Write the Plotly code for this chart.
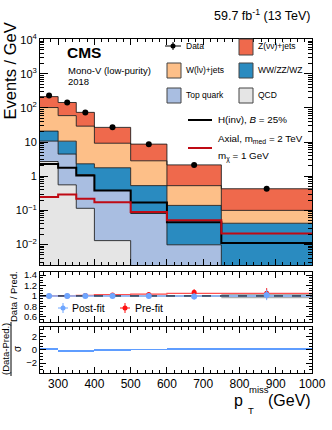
import plotly.graph_objects as go
from plotly.subplots import make_subplots

_FONT = "Liberation Sans, Arial, sans-serif"
_Z = "#ef694c"
_W = "#fdbf88"
_VV = "#2a8bc0"
_TOP = "#a9bee1"
_QCD = "#e5e5e5"
_EDGE = "rgba(25,25,25,0.85)"
_SIG_RED = "#bf0a14"
_POST = "#6fa6ff"
_PRE = "#ff1010"

# binning (GeV)
edges = [250, 300, 350, 400, 500, 600, 750, 1000]
centers = [275, 325, 375, 450, 550, 675, 875]
widths = [50, 50, 50, 100, 100, 150, 250]

# events / GeV
data = [230, 145, 74, 27, 8.7, 2.15, 0.43]
data_err = [4.0, 3.0, 1.8, 0.7, 0.3, 0.1, 0.04]
qcd = [2.7, 0.56, 0.115, 0.013, 0.001, 0.0005, 0.0002]
top = [8.0, 3.9, 1.0, 0.37, 0.08, 0.0093, 0.0008]
vv = [10.3, 6.2, 1.2, 1.39, 0.45, 0.13, 0.041]
wjets = [82, 49, 27, 7.5, 2.3, 0.39, 0.058]
zjets = [112, 85, 45, 17.7, 5.9, 1.62, 0.33]
hinv = [2.3, 1.77, 1.05, 0.38, 0.17, 0.045, 0.011]
axial = [0.245, 0.29, 0.22, 0.174, 0.089, 0.051, 0.021]

# ratio panel
postfit_ratio = [1.0, 1.0, 1.0, 1.0, 1.0, 0.99, 1.02]
postfit_err = [0.01, 0.01, 0.015, 0.02, 0.035, 0.06, 0.1]
prefit_ratio = [1.0, 1.0, 1.01, 1.02, 1.03, 1.07, 1.05]
prefit_err = [0.01, 0.01, 0.015, 0.02, 0.035, 0.06, 0.1]
prefit_line = [1.0, 1.0, 1.01, 1.025, 1.035, 1.05, 1.05]
syst_unc = [0.004, 0.004, 0.006, 0.01, 0.015, 0.02, 0.045]

# pull panel
pull = [0.3, -0.4, -0.4, -0.2, 0.05, 0.15, 0.25]

W, H = 332, 430
PL, PR, PT, PB = 40, 312, 39, 373  # plot box in pixels


def px(x):
    return (x - PL) / (PR - PL)


def py(y):
    return (PB - y) / (PB - PT)


def steps(vals):
    return list(vals) + [vals[-1]]


fig = make_subplots(rows=3, cols=1, shared_xaxes=True)

# stacked backgrounds
running = [1e-5] * len(centers)
fig.add_trace(go.Scatter(x=edges, y=steps(running), mode="lines", line={"width": 0},
                         line_shape="hv", hoverinfo="skip"), row=1, col=1)
for vals, col in [(qcd, _QCD), (top, _TOP), (vv, _VV), (wjets, _W), (zjets, _Z)]:
    running = [a + b for a, b in zip(running, vals)]
    fig.add_trace(go.Scatter(x=edges, y=steps(running), mode="lines", line_shape="hv",
                             fill="tonexty", fillcolor=col,
                             line={"color": _EDGE, "width": 1}), row=1, col=1)

fig.add_trace(go.Scatter(x=edges, y=steps(hinv), mode="lines", line_shape="hv",
                         line={"color": "black", "width": 2}), row=1, col=1)
fig.add_trace(go.Scatter(x=edges, y=steps(axial), mode="lines", line_shape="hv",
                         line={"color": _SIG_RED, "width": 2}), row=1, col=1)
fig.add_trace(go.Scatter(x=centers, y=data, mode="markers",
                         marker={"color": "black", "size": 6},
                         error_y={"type": "data", "array": data_err, "color": "black",
                                  "thickness": 1, "width": 0}), row=1, col=1)

# ratio panel
lo = [1 - u for u in syst_unc]
hi = [1 + u for u in syst_unc]
fig.add_trace(go.Scatter(x=edges, y=steps(lo), mode="lines", line_shape="hv", line={"width": 0}),
              row=2, col=1)
fig.add_trace(go.Scatter(x=edges, y=steps(hi), mode="lines", line_shape="hv", line={"width": 0},
                         fill="tonexty", fillcolor="rgba(110,110,110,0.55)"), row=2, col=1)
fig.add_trace(go.Scatter(x=edges, y=steps([v - 0.008 for v in prefit_line]), mode="lines",
                         line_shape="hv", line={"width": 0}), row=2, col=1)
fig.add_trace(go.Scatter(x=edges, y=steps([v + 0.008 for v in prefit_line]), mode="lines",
                         line_shape="hv", line={"width": 0}, fill="tonexty",
                         fillcolor="rgba(255,130,130,0.45)"), row=2, col=1)
fig.add_trace(go.Scatter(x=edges, y=steps(prefit_line), mode="lines", line_shape="hv",
                         line={"color": "#ff5050", "width": 1.2}), row=2, col=1)
fig.add_trace(go.Scatter(x=edges, y=steps([1.0] * 7), mode="lines", line_shape="hv",
                         line={"color": "#86b6ff", "width": 1.5}), row=2, col=1)
fig.add_trace(go.Scatter(x=[250, 1000], y=[1, 1], mode="lines",
                         line={"color": "black", "width": 1, "dash": "dash"}), row=2, col=1)
fig.add_trace(go.Scatter(x=centers, y=prefit_ratio, mode="markers",
                         marker={"color": _PRE, "size": 5},
                         error_y={"type": "data", "array": prefit_err, "color": _PRE,
                                  "thickness": 1, "width": 0}), row=2, col=1)
fig.add_trace(go.Scatter(x=centers, y=postfit_ratio, mode="markers",
                         marker={"color": _POST, "size": 6},
                         error_y={"type": "data", "array": postfit_err, "color": _POST,
                                  "thickness": 1, "width": 0}), row=2, col=1)

# pull panel
fig.add_trace(go.Bar(x=centers, y=pull, width=widths, marker={"color": "#5f9dff", "line": {"width": 0}}),
              row=3, col=1)

axis_common = dict(showline=True, linecolor="black", linewidth=1, mirror="allticks",
                   ticks="inside", tickcolor="black", showgrid=False, zeroline=False,
                   automargin=False)
xcommon = dict(axis_common, range=[250, 1000], tick0=0, dtick=100, ticklen=6,
               minor={"ticks": "inside", "dtick": 20, "ticklen": 3, "tickcolor": "black"})
fig.update_xaxes(**xcommon)
fig.update_xaxes(showticklabels=False, row=1, col=1)
fig.update_xaxes(showticklabels=False, row=2, col=1)
fig.update_xaxes(showticklabels=True, tickfont={"size": 12, "color": "black", "family": _FONT},
                 row=3, col=1)

decades = [-2, -1, 0, 1, 2, 3, 4]
main_ticks = [10.0 ** d for d in decades]
main_text = ["10<sup>−2</sup>", "10<sup>−1</sup>", "1", "10", "10<sup>2</sup>",
             "10<sup>3</sup>", "10<sup>4</sup>"]
minor_vals = [k * 10.0 ** d for d in [-3] + decades for k in range(2, 10)]

fig.update_layout(
    yaxis=dict(axis_common, type="log", range=[-2.6, 4.02], domain=[py(265), 1],
               tickvals=main_ticks, ticktext=main_text, ticklen=8,
               tickfont={"size": 11, "color": "black", "family": _FONT},
               minor={"ticks": "inside", "tickmode": "array", "tickvals": minor_vals,
                      "ticklen": 4, "tickcolor": "black"}),
    yaxis2=dict(axis_common, range=[0.5, 1.46], domain=[py(322), py(272)],
                tickvals=[0.6, 0.8, 1, 1.2, 1.4], ticktext=["0.6", "0.8", "1", "1.2", "1.4"],
                ticklen=6, tickfont={"size": 9.5, "color": "black", "family": _FONT},
                minor={"ticks": "inside", "dtick": 0.05, "ticklen": 3, "tickcolor": "black"}),
    yaxis3=dict(axis_common, range=[-3.5, 3.4], domain=[0, py(327)],
                tickvals=[-2, 0, 2], ticktext=["−2", "0", "2"], ticklen=6,
                tickfont={"size": 9.5, "color": "black", "family": _FONT},
                minor={"ticks": "inside", "dtick": 0.5, "ticklen": 3, "tickcolor": "black"}),
)

ann = []


def text(x, y, s, size, xanchor="left", angle=0, yanchor="middle"):
    ann.append(dict(x=px(x), y=py(y), xref="paper", yref="paper", text=s, showarrow=False,
                    xanchor=xanchor, yanchor=yanchor, textangle=angle,
                    font={"size": size, "color": "black", "family": _FONT}))


text(313, 15, "59.7 fb<sup>-1</sup> (13 TeV)", 12.5, xanchor="right")
text(65, 52, "<b>CMS</b>", 15.5)
text(66, 70, "Mono-V (low-purity)", 9.5)
text(66, 82, "2018", 9.5)
text(10, 21, "Events / GeV", 16.5, xanchor="center", angle=-90, yanchor="top")
text(13, 297, "Data / Pred.", 9.5, xanchor="center", angle=-90)
text(5, 349, "(Data-Pred.)", 9.5, xanchor="center", angle=-90)
text(17, 349, "σ", 10, xanchor="center", angle=-90)

# x title
text(313, 400, "(GeV)", 16, xanchor="right")
text(244.5, 400, "p", 16, xanchor="right")
text(247, 390, "miss", 9.5)
text(246, 410, "T", 9.5)

# legend
shapes = []


def box(x0, y0, x1, y1, col):
    shapes.append(dict(type="rect", xref="paper", yref="paper", x0=px(x0), x1=px(x1),
                       y0=py(y1), y1=py(y0), fillcolor=col, line={"color": "#444", "width": 1}))


def seg(x0, y0, x1, y1, col, w):
    shapes.append(dict(type="line", xref="paper", yref="paper", x0=px(x0), x1=px(x1),
                       y0=py(y0), y1=py(y1), line={"color": col, "width": w}))


seg(165, 46, 181, 46, "black", 1)
seg(173, 42, 173, 50, "black", 1)
shapes.append(dict(type="circle", xref="paper", yref="paper", x0=px(170.5), x1=px(175.5),
                   y0=py(48.5), y1=py(43.5), fillcolor="black", line={"color": "black", "width": 0}))
text(184, 46, "Data", 8.5)
box(239, 39, 253, 55, _Z)
text(256, 46, "Z(νν)+jets", 8.5)
box(167, 63, 181, 78, _W)
text(184, 70, "W(lν)+jets", 8.5)
box(239, 63, 253, 78, _VV)
text(256, 70, "WW/ZZ/WZ", 8.5)
box(167, 88, 181, 103, _TOP)
text(184, 95, "Top quark", 8.5)
box(239, 88, 253, 103, _QCD)
text(256, 95, "QCD", 8.5)
seg(188, 120, 212, 120, "black", 2)
text(216, 120, "H(inv), <i>B</i> = 25%", 9.8)
seg(188, 148, 212, 148, _SIG_RED, 2)
text(216, 139, "Axial, m<sub>med</sub> = 2 TeV", 9.8)
text(216, 156, "m<sub>χ</sub> = 1 GeV", 9.8)

# ratio legend
seg(58, 308, 68, 308, _POST, 1)
seg(63, 303, 63, 313, _POST, 1)
shapes.append(dict(type="circle", xref="paper", yref="paper", x0=px(60.5), x1=px(65.5),
                   y0=py(310.5), y1=py(305.5), fillcolor=_POST, line={"width": 0}))
text(70, 308, "Post-fit", 10.5)
seg(120, 308, 130, 308, _PRE, 1)
seg(125, 303, 125, 313, _PRE, 1)
shapes.append(dict(type="circle", xref="paper", yref="paper", x0=px(122.5), x1=px(127.5),
                   y0=py(310.5), y1=py(305.5), fillcolor=_PRE, line={"width": 0}))
text(133, 308, "Pre-fit", 10.5)

# fraction bar of pull title
seg(11, 322, 11, 376, "black", 1)

fig.update_layout(
    width=W, height=H,
    margin={"l": PL, "r": W - PR, "t": PT, "b": H - PB},
    paper_bgcolor="white", plot_bgcolor="white",
    showlegend=False,
    font={"family": _FONT, "color": "black"},
    annotations=ann,
    shapes=shapes,
    bargap=0,
)

# drop the browser's default 8px page margin so the figure fills the window
fig.write_html("out.html", config={"displayModeBar": False},
               post_script="document.body.style.margin = '0px';")
